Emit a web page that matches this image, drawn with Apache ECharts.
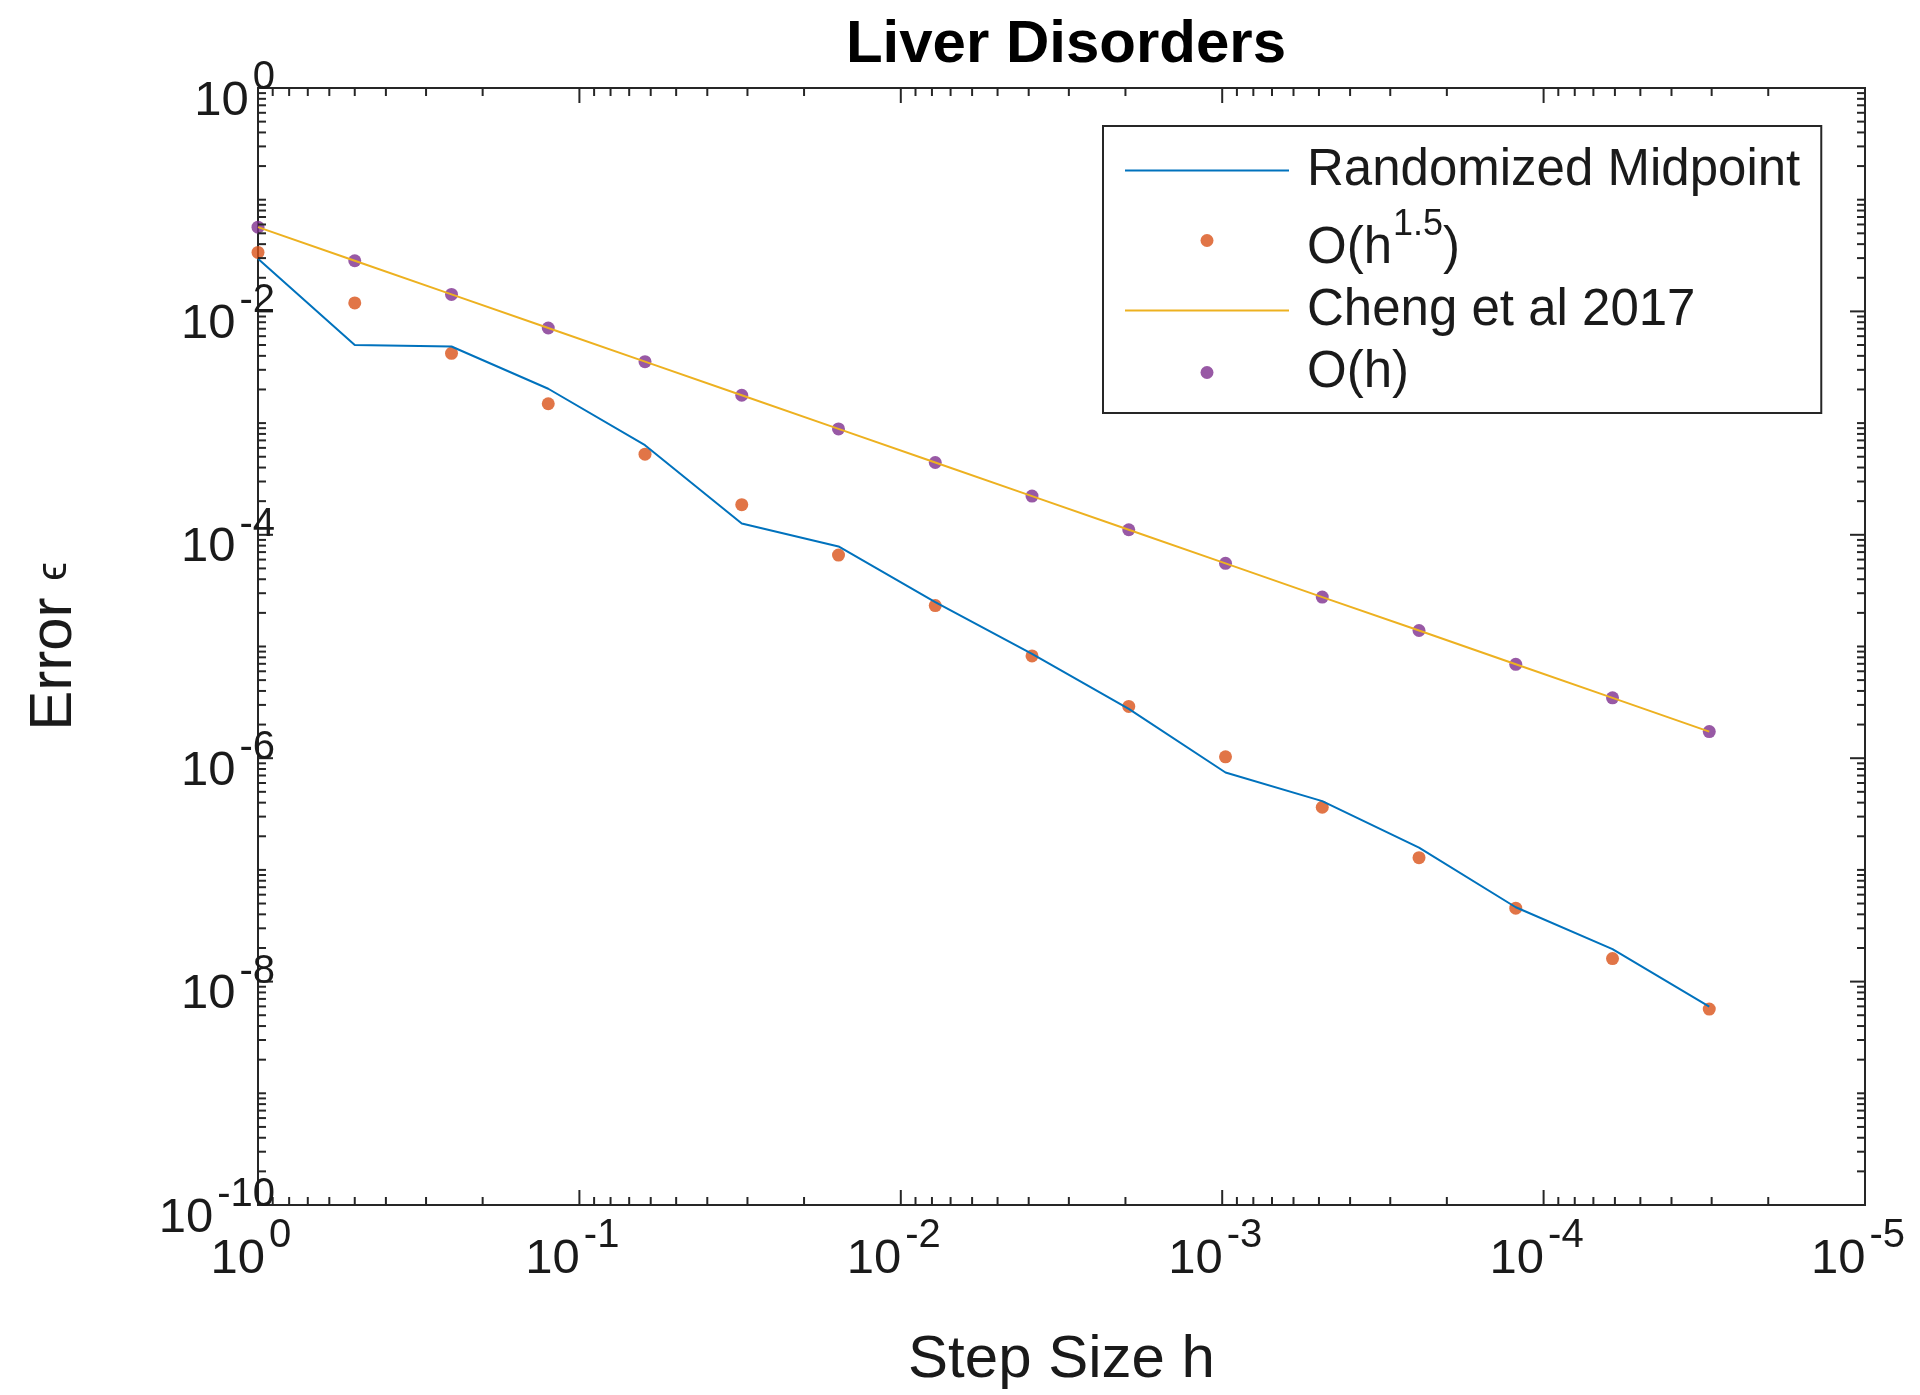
<!DOCTYPE html>
<html>
<head>
<meta charset="utf-8">
<title>Liver Disorders</title>
<script src="https://cdn.jsdelivr.net/npm/echarts@6/dist/echarts.min.js"></script>
<style>
  html, body { margin: 0; padding: 0; background: #fff; }
  #chart { width: 1920px; height: 1395px; }
</style>
</head>
<body>
<div id="chart"></div>
<script>
// step sizes h = 2^-k, k = 0..15
const stepSizes = [1, 0.5, 0.25, 0.125, 0.0625, 0.03125, 0.015625, 0.0078125,
  0.00390625, 0.001953125, 9.765625e-4, 4.8828125e-4, 2.44140625e-4,
  1.220703125e-4, 6.103515625e-5, 3.0517578125e-5];

// errors
const randomizedMidpoint = [0.0296, 5.0e-3, 4.85e-3, 2.03e-3, 6.34e-4, 1.26e-4, 7.87e-5, 2.5e-5,
  8.6e-6, 2.76e-6, 7.45e-7, 4.13e-7, 1.58e-7, 4.63e-8, 1.95e-8, 5.97e-9];
const orderOneHalf = [0.0337, 0.011915, 4.2125e-3, 1.4893e-3, 5.2656e-4, 1.8617e-4, 6.582e-5, 2.327e-5,
  8.228e-6, 2.909e-6, 1.0284e-6, 3.636e-7, 1.2856e-7, 4.545e-8, 1.607e-8, 5.68e-9];
const chengEtAl = [0.0568, 0.0284, 0.0142, 7.1e-3, 3.55e-3, 1.775e-3, 8.875e-4, 4.44e-4,
  2.22e-4, 1.11e-4, 5.55e-5, 2.77e-5, 1.39e-5, 6.93e-6, 3.47e-6, 1.73e-6];
const orderOne = [0.0568, 0.0284, 0.0142, 7.1e-3, 3.55e-3, 1.775e-3, 8.875e-4, 4.44e-4,
  2.22e-4, 1.11e-4, 5.55e-5, 2.77e-5, 1.39e-5, 6.93e-6, 3.47e-6, 1.73e-6];

// labelled decades
const xTickExponents = [0, -1, -2, -3, -4, -5];
const yTickExponents = [0, -2, -4, -6, -8, -10];

const X_MIN = 1e-5, X_MAX = 1, Y_MIN = 1e-10, Y_MAX = 1;
const FONT = '"Liberation Sans", Arial, Helvetica, "DejaVu Sans", sans-serif';
const AXIS_COLOR = '#262626';
const TEXT_COLOR = '#1a1a1a';
const BLUE = '#0072BD', ORANGE = '#D95319', YELLOW = '#EDB120', PURPLE = '#7E2F8E';

function pairs(values) {
  return values.map((v, i) => [stepSizes[i], v]);
}

// tick marks, matlab style: inside, on all four sides
// kind 0/1 = x major/minor, 2/3 = y major/minor
const tickData = [];
for (let e = -5; e <= 0; e++) tickData.push([Math.pow(10, e), Y_MAX, 0]);
for (let e = -5; e < 0; e++) {
  for (let m = 2; m <= 9; m++) tickData.push([m * Math.pow(10, e), Y_MAX, 1]);
}
for (let e = -10; e <= 0; e++) tickData.push([X_MAX, Math.pow(10, e), e % 2 === 0 ? 2 : 3]);
for (let e = -10; e < 0; e++) {
  for (let m = 2; m <= 9; m++) tickData.push([X_MAX, m * Math.pow(10, e), 3]);
}

function renderTick(params, api) {
  const kind = api.value(2);
  const len = (kind === 0 || kind === 2) ? 15 : 8;
  const style = { stroke: AXIS_COLOR, lineWidth: 2 };
  let segs;
  if (kind < 2) {
    const lo = api.coord([api.value(0), Y_MIN]);
    const hi = api.coord([api.value(0), Y_MAX]);
    segs = [[lo[0], lo[1], lo[0], lo[1] - len], [hi[0], hi[1], hi[0], hi[1] + len]];
  } else {
    const l = api.coord([X_MAX, api.value(1)]);
    const r = api.coord([X_MIN, api.value(1)]);
    segs = [[l[0], l[1], l[0] + len, l[1]], [r[0], r[1], r[0] - len, r[1]]];
  }
  return {
    type: 'group',
    children: segs.map(s => ({
      type: 'line',
      shape: { x1: s[0], y1: s[1], x2: s[2], y2: s[3] },
      style: style
    }))
  };
}

// 10^n labels: "10" and the exponent as two texts
const BASE_SIZE = 49, SUP_SIZE = 40, SUP_GAP = 4;
const BASE_W = 2 * 0.556 * BASE_SIZE;
function supWidth(str) {
  let w = 0;
  for (const ch of str) w += ch === '-' ? 0.333 : 0.556;
  return w * SUP_SIZE;
}
const labelData = xTickExponents.map(e => [Math.pow(10, e), Y_MIN, e, 0])
  .concat(yTickExponents.map(e => [X_MAX, Math.pow(10, e), e, 1]));

function renderTickLabel(params, api) {
  const exp = String(api.value(2));
  const onX = api.value(3) === 0;
  const p = api.coord([api.value(0), api.value(1)]);
  const ws = supWidth(exp);
  let baseRight, baseY, supY;
  if (onX) {
    baseRight = p[0] - (BASE_W + SUP_GAP + ws) / 2 - 7 + BASE_W;
    baseY = p[1] + 54;
    supY = p[1] + 31;
  } else {
    baseRight = p[0] + 17 - ws - SUP_GAP;
    baseY = p[1] + 13;
    supY = p[1] - 10;
  }
  return {
    type: 'group',
    children: [
      {
        type: 'text', x: baseRight, y: baseY,
        style: { text: '10', fontSize: BASE_SIZE, fontFamily: FONT, fill: TEXT_COLOR, align: 'right', verticalAlign: 'middle' }
      },
      {
        type: 'text', x: baseRight + SUP_GAP, y: supY,
        style: { text: exp, fontSize: SUP_SIZE, fontFamily: FONT, fill: TEXT_COLOR, align: 'left', verticalAlign: 'middle' }
      }
    ]
  };
}

const chart = echarts.init(document.getElementById('chart'));

const option = {
  animation: false,
  backgroundColor: '#fff',
  title: {
    text: 'Liver Disorders',
    left: 1061,
    top: 10,
    textAlign: 'center',
    textStyle: { fontFamily: FONT, fontSize: 60, fontWeight: 'bold', color: '#000' }
  },
  grid: {
    left: 258, right: 55, top: 88, bottom: 183,
    show: true, borderColor: AXIS_COLOR, borderWidth: 2, backgroundColor: 'transparent'
  },
  legend: {
    orient: 'vertical',
    left: 1103,
    top: 126,
    padding: [19, 21, 15, 21],
    itemWidth: 164,
    itemHeight: 13,
    itemGap: 11,
    backgroundColor: '#fff',
    borderColor: AXIS_COLOR,
    borderWidth: 2,
    selectedMode: false,
    data: [
      { name: 'Randomized Midpoint', itemStyle: { opacity: 0 } },
      { name: 'O(h^1.5)' },
      { name: 'Cheng et al 2017', itemStyle: { opacity: 0 } },
      { name: 'O(h)' }
    ],
    formatter: function (name) {
      if (name === 'O(h^1.5)') return '{p|O(h}{s|1.5}{q|)}';
      return '{t|' + name + '}';
    },
    textStyle: {
      fontFamily: FONT,
      fontSize: 51,
      color: TEXT_COLOR,
      rich: {
        t: { fontFamily: FONT, fontSize: 51, lineHeight: 56, padding: [0, 0, 0, 13] },
        p: { fontFamily: FONT, fontSize: 51, padding: [16, 0, 0, 13], verticalAlign: 'bottom' },
        q: { fontFamily: FONT, fontSize: 51, padding: [16, 0, 0, 0], verticalAlign: 'bottom' },
        s: { fontFamily: FONT, fontSize: 36, padding: [0, 0, 30, 1], verticalAlign: 'top' }
      }
    }
  },
  xAxis: {
    type: 'log',
    logBase: 10,
    inverse: true,
    min: X_MIN,
    max: X_MAX,
    name: 'Step Size h',
    nameLocation: 'middle',
    nameGap: 125,
    nameTextStyle: { fontFamily: FONT, fontSize: 60, color: TEXT_COLOR },
    axisLine: { show: false },
    axisTick: { show: false },
    axisLabel: { show: false },
    splitLine: { show: false }
  },
  yAxis: {
    type: 'log',
    logBase: 10,
    min: Y_MIN,
    max: Y_MAX,
    name: 'Error {e|ϵ}',
    nameLocation: 'middle',
    nameRotate: 90,
    nameGap: 174,
    nameTextStyle: {
      fontFamily: FONT, fontSize: 60, color: TEXT_COLOR,
      rich: { e: { fontFamily: FONT, fontSize: 42, color: TEXT_COLOR } }
    },
    axisLine: { show: false },
    axisTick: { show: false },
    axisLabel: { show: false },
    splitLine: { show: false }
  },
  series: [
    {
      name: 'Randomized Midpoint',
      type: 'line',
      data: pairs(randomizedMidpoint),
      symbol: 'none',
      lineStyle: { color: BLUE, width: 2 },
      itemStyle: { color: BLUE }
    },
    {
      name: 'O(h^1.5)',
      type: 'scatter',
      data: pairs(orderOneHalf),
      symbol: 'circle',
      symbolSize: 13,
      clip: false,
      itemStyle: { color: ORANGE }
    },
    {
      name: 'Cheng et al 2017',
      type: 'line',
      data: pairs(chengEtAl),
      symbol: 'none',
      lineStyle: { color: YELLOW, width: 2 },
      itemStyle: { color: YELLOW }
    },
    {
      name: 'O(h)',
      type: 'scatter',
      data: pairs(orderOne),
      symbol: 'circle',
      symbolSize: 13,
      clip: false,
      itemStyle: { color: PURPLE }
    },
    {
      name: 'ticks',
      type: 'custom',
      coordinateSystem: 'cartesian2d',
      renderItem: renderTick,
      data: tickData,
      encode: { x: 0, y: 1 },
      silent: true,
      clip: false,
      z: 5
    },
    {
      name: 'tickLabels',
      type: 'custom',
      coordinateSystem: 'cartesian2d',
      renderItem: renderTickLabel,
      data: labelData,
      encode: { x: 0, y: 1 },
      silent: true,
      clip: false,
      z: 5
    }
  ]
};

chart.setOption(option);
</script>
</body>
</html>
